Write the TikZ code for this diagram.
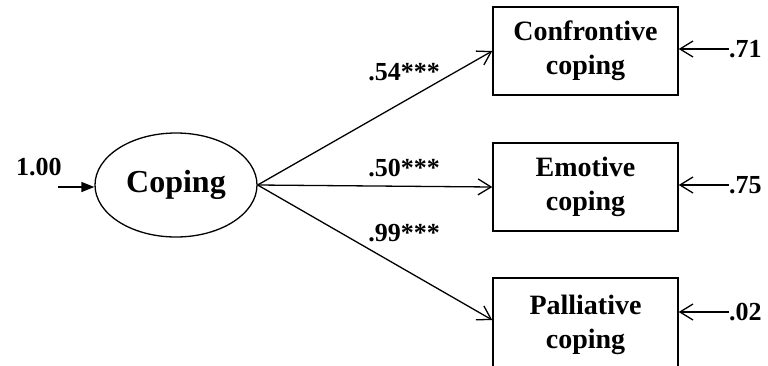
\documentclass[tikz,border=0pt]{standalone}
\usepackage{fontspec}
\setmainfont{Liberation Serif}
\usetikzlibrary{arrows.meta,shapes.geometric}

\tikzset{
  latent/.style={ellipse, draw, line width=1.3pt, minimum width=162pt, minimum height=104pt,
    inner sep=0pt, font=\fontsize{32}{36}\selectfont\bfseries},
  observed/.style={rectangle, draw, line width=1.5pt, minimum width=185pt, minimum height=88pt,
    inner sep=0pt, align=center, font=\fontsize{28}{34}\selectfont\bfseries},
  coef/.style={inner sep=0pt, font=\fontsize{26}{30}\selectfont\bfseries},
  path/.style={line width=1.3pt, -{Straight Barb[length=13pt, width=16pt, line width=1.3pt]}},
  feed/.style={line width=1.5pt, -{Triangle[length=13pt, width=10pt]}}
}

\begin{document}
\begin{tikzpicture}[x=1pt, y=-1pt]
  \useasboundingbox (0,0) rectangle (768,365);

  % latent factor and its indicators
  \node[latent] (cop) at (176,185) {Coping};
  \node[observed] (conf) at (585.5,51) {Confrontive\\coping};
  \node[observed] (emo) at (585.5,187) {Emotive\\coping};
  \node[observed, minimum height=94pt] (pall) at (585.5,325) {Palliative\\coping};

  % variance of the factor
  \node[coef] (var) at (39,167) {1.00};
  \coordinate (vin) at (58,187);
  \draw[feed] (vin) -- (vin -| cop.west);

  % loadings
  \coordinate (p3) at (493,320);
  \draw[path] (cop.east) -- (conf.west);
  \draw[path] (cop.east) -- (emo.west);
  \draw[path] (cop.east) -- (p3 -| pall.west);
  \node[coef] (l1) at (404,72) {.54***};
  \node[coef] (l2) at (404,168) {.50***};
  \node[coef] (l3) at (404,233) {.99***};

  % residual terms
  \node[coef, anchor=west] (r1) at (729,49) {.71};
  \node[coef, anchor=west] (r2) at (729,185) {.75};
  \node[coef, anchor=west] (r3) at (729,312) {.02};
  \draw[path] (r1.west) -- (r1.west -| conf.east);
  \draw[path] (r2.west) -- (r2.west -| emo.east);
  \draw[path] (r3.west) -- (r3.west -| pall.east);
\end{tikzpicture}
\end{document}
